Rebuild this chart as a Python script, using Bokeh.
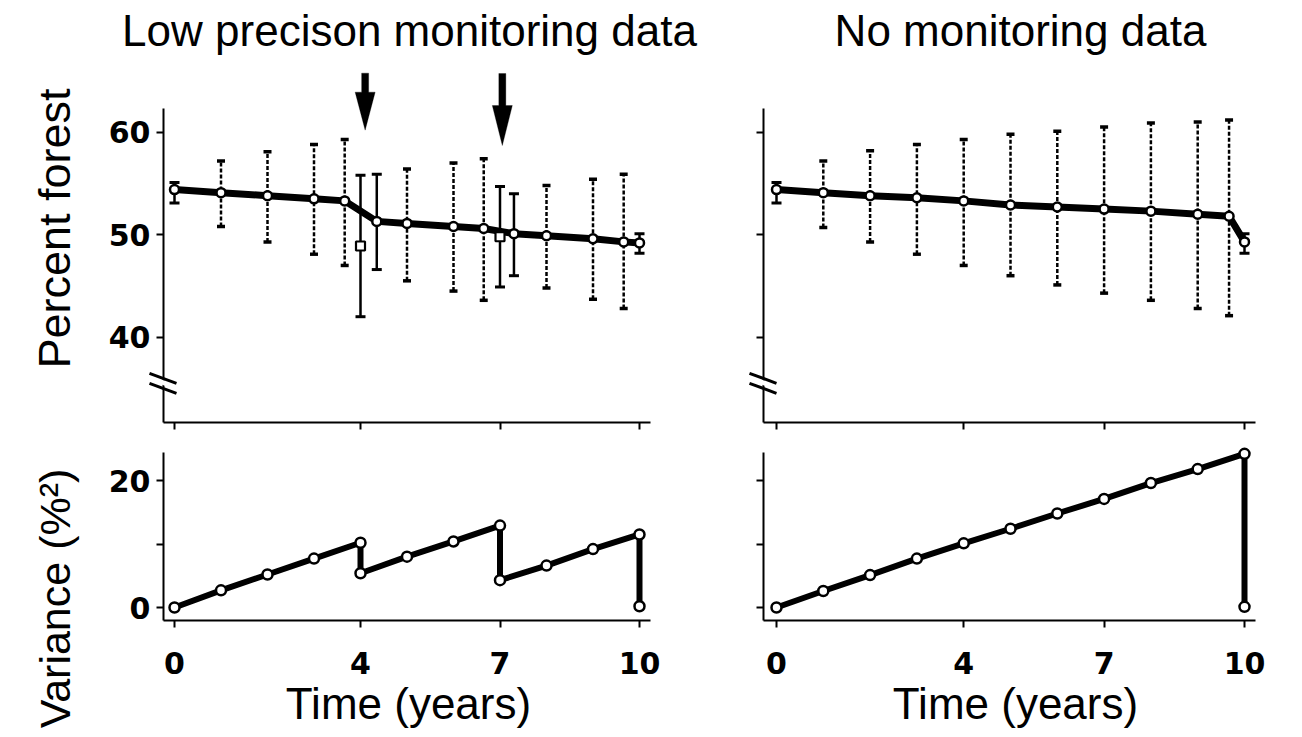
import math
from bokeh.plotting import figure
from bokeh.layouts import column, row
from bokeh.models import Label, PolyAnnotation, Arrow, FixedTicker, Range1d, LinearAxis
from bokeh.embed import file_html
from bokeh.resources import INLINE

# ---------------- data ----------------
time_ticks = [0, 4, 7, 10]
forest_ticks = [40, 50, 60]
var_ticks = [0, 10, 20]

# Low precision monitoring: estimates / predictions of percent forest
lp_t = [0, 1, 2, 3, 3.66, 4.35, 5, 6, 6.65, 7.3, 8, 9, 9.66, 10]
lp_mean = [54.4, 54.1, 53.8, 53.5, 53.3, 51.3, 51.1, 50.8, 50.6, 50.1, 49.9, 49.6, 49.3, 49.2]
lp_lo = [53.1, 50.8, 49.3, 48.1, 47.0, 46.6, 45.5, 44.5, 43.6, 46.0, 44.8, 43.7, 42.8, 48.2]
lp_hi = [55.1, 57.2, 58.1, 58.8, 59.3, 55.9, 56.4, 57.0, 57.4, 54.0, 54.8, 55.4, 55.9, 50.1]
lp_kind = ["est", "pred", "pred", "pred", "pred", "est", "pred", "pred", "pred", "est",
           "pred", "pred", "pred", "est"]

# monitoring observations (squares)
obs_t = [4, 7]
obs_val = [48.9, 49.8]
obs_lo = [42.0, 44.9]
obs_hi = [55.8, 54.7]

# arrows marking monitoring times
arrow_x = [4.1, 7.05]
arrow_tip = [60.2, 58.7]

# No monitoring data
nm_t = [0, 1, 2, 3, 4, 5, 6, 7, 8, 9, 9.67, 10]
nm_mean = [54.4, 54.1, 53.8, 53.6, 53.3, 52.9, 52.7, 52.5, 52.3, 52.0, 51.8, 49.3]
nm_lo = [53.1, 50.7, 49.3, 48.1, 47.0, 46.0, 45.1, 44.3, 43.6, 42.8, 42.1, 48.2]
nm_hi = [55.1, 57.2, 58.2, 58.8, 59.3, 59.8, 60.1, 60.5, 60.9, 61.0, 61.2, 50.1]
nm_kind = ["est"] + ["pred"] * 10 + ["est"]

# Variance
lp_var_t = [0, 1, 2, 3, 4, 4, 5, 6, 7, 7, 8, 9, 10, 10]
lp_var = [0.0, 2.7, 5.2, 7.7, 10.2, 5.4, 8.0, 10.4, 12.9, 4.3, 6.6, 9.2, 11.5, 0.2]
nm_var_t = [0, 1, 2, 3, 4, 5, 6, 7, 8, 9, 10, 10]
nm_var = [0.0, 2.6, 5.1, 7.7, 10.1, 12.4, 14.8, 17.1, 19.6, 21.8, 24.2, 0.1]

axis_break = 35.5

titles = ["Low precison monitoring data", "No monitoring data"]
ylab_top = "Percent forest"
ylab_bot = "Variance (%\u00b2)"
xlab = "Time (years)"

FONT = "Liberation Sans"
TICKFONT = "DejaVu Sans"


class Panel:
    """A figure whose frame fills its whole canvas; axes are placed with fixed_location."""

    def __init__(self, left, top, w, h, xmap, ymap, xbounds, ybounds, yticks,
                 show_ylabels, show_xlabels):
        (xa, pxa), (xb, pxb) = xmap
        (ya, pya), (yb, pyb) = ymap
        self.kx = (pxb - pxa) / (xb - xa)
        self.ky = (pya - pyb) / (yb - ya)
        self.left, self.top = left, top
        x0 = xa + (left - pxa) / self.kx
        x1 = xa + (left + w - pxa) / self.kx
        y1 = ya + (pya - top) / self.ky
        y0 = ya - (top + h - pya) / self.ky
        self.xr, self.yr = (x0, x1), (y0, y1)
        self.xb, self.yb = xbounds, ybounds
        p = figure(width=w, height=h, title=None,
                   x_range=Range1d(x0, x1), y_range=Range1d(y0, y1),
                   x_axis_location=None, y_axis_location=None,
                   output_backend="svg", toolbar_location=None,
                   min_border=0, min_border_left=0, min_border_right=0,
                   min_border_top=0, min_border_bottom=0)
        p.outline_line_color = None
        p.xgrid.visible = False
        p.ygrid.visible = False
        p.background_fill_color = "white"
        p.border_fill_color = "white"

        yax = LinearAxis(fixed_location=xbounds[0], bounds=ybounds,
                         ticker=FixedTicker(ticks=yticks))
        xax = LinearAxis(fixed_location=ybounds[0], bounds=xbounds,
                         ticker=FixedTicker(ticks=time_ticks))
        for ax in (xax, yax):
            ax.axis_line_width = 2
            ax.axis_line_color = "black"
            ax.major_tick_line_width = 2
            ax.major_tick_line_color = "black"
            ax.major_tick_out = 7
            ax.major_tick_in = 0
            ax.minor_tick_out = 0
            ax.minor_tick_in = 0
            ax.major_label_text_font = TICKFONT
            ax.major_label_text_font_style = "bold"
            ax.major_label_text_font_size = "30px"
            ax.major_label_text_color = "black"
        xax.major_label_standoff = 24
        yax.major_label_standoff = 6
        if not show_xlabels:
            xax.major_label_text_color = None
        if not show_ylabels:
            yax.major_label_text_color = None
        self.xax, self.yax = xax, yax
        p.add_layout(yax, "left")
        p.add_layout(xax, "below")
        self.p = p

    def dx(self, px):
        return self.xr[0] + (px - self.left) / self.kx

    def dy(self, py):
        return self.yr[1] - (py - self.top) / self.ky

    def text(self, px, py, txt, size, angle=0.0):
        self.p.add_layout(Label(x=self.dx(px), y=self.dy(py), text=txt, angle=angle,
                                text_font=FONT, text_font_size=size,
                                text_color="black", text_align="center",
                                text_baseline="alphabetic"))

    def axis_break_mark(self, yb):
        x0 = self.xb[0]
        kx, ky = self.kx, self.ky
        self.p.add_layout(PolyAnnotation(
            xs=[x0 - 4 / kx, x0 + 4 / kx, x0 + 4 / kx, x0 - 4 / kx],
            ys=[yb + 4.5 / ky, yb + 1.5 / ky, yb - 3.5 / ky, yb - 0.5 / ky],
            fill_color="white", fill_alpha=1.0, line_color=None, level="overlay"))
        for off in (5, -5):
            self.p.add_layout(Arrow(x_start=x0 - 14 / kx, y_start=yb + (off + 5) / ky,
                                    x_end=x0 + 13 / kx, y_end=yb + (off - 5) / ky,
                                    end=None, line_width=3, line_color="black",
                                    level="overlay"))


def error_bars(p, t, lo, hi, kind):
    pred = [i for i, k in enumerate(kind) if k == "pred"]
    est = [i for i, k in enumerate(kind) if k == "est"]
    if pred:
        xs = [t[i] for i in pred]
        p.segment(x0=xs, y0=[lo[i] for i in pred], x1=xs, y1=[hi[i] for i in pred],
                  line_color="black", line_width=2.5, line_dash="4 2")
        p.scatter(xs + xs, [lo[i] for i in pred] + [hi[i] for i in pred], marker="dash",
                  size=8, line_width=3.5, line_color="black")
    if est:
        xs = [t[i] for i in est]
        p.segment(x0=xs, y0=[lo[i] for i in est], x1=xs, y1=[hi[i] for i in est],
                  line_color="black", line_width=2.5)
        p.scatter(xs + xs, [lo[i] for i in est] + [hi[i] for i in est], marker="dash",
                  size=10, line_width=3, line_color="black")


def mean_line(p, t, m):
    p.line(t, m, line_color="black", line_width=7, line_join="round")
    p.scatter(t, m, marker="circle", size=9, fill_color="white", line_color="black",
              line_width=2.5)


def var_line(p, t, v):
    p.line(t, v, line_color="black", line_width=6, line_join="round")
    p.scatter(t, v, marker="circle", size=10, fill_color="white", line_color="black",
              line_width=2.5)


# pixel anchors (value, page pixel)
left_xmap = ((0, 174), (10, 639))
right_xmap = ((0, 776), (10, 1244))
forest_ymap = ((60, 131.7), (40, 336.7))
var_ymap = ((0, 607), (20, 480))
left_xb = (-0.237, 10.237)
right_xb = (-0.278, 10.235)
forest_yb = (31.68, 62.31)
var_yb = (-2.05, 24.4)

tl = Panel(0, 0, 700, 437, left_xmap, forest_ymap, left_xb, forest_yb, forest_ticks, True, False)
tr = Panel(700, 0, 600, 437, right_xmap, forest_ymap, right_xb, forest_yb, forest_ticks, False, False)
bl = Panel(0, 437, 700, 299, left_xmap, var_ymap, left_xb, var_yb, var_ticks, True, True)
br = Panel(700, 437, 600, 299, right_xmap, var_ymap, right_xb, var_yb, var_ticks, False, True)
bl.yax.major_label_overrides = {10: ""}

# top-left
error_bars(tl.p, lp_t, lp_lo, lp_hi, lp_kind)
error_bars(tl.p, obs_t, obs_lo, obs_hi, ["est"] * len(obs_t))
mean_line(tl.p, lp_t, lp_mean)
tl.p.scatter(obs_t, obs_val, marker="square", size=9, fill_color="white",
             line_color="black", line_width=2.2)
tl.axis_break_mark(axis_break)

# arrows
kx, ky = tl.kx, tl.ky
for ax_, tip, length, head in zip(arrow_x, arrow_tip, [57, 72], [38, 40]):
    top = tip + length / ky
    base = tip + head / ky
    hs, hh = 3.5 / kx, 10 / kx
    tl.p.add_layout(PolyAnnotation(
        xs=[ax_ - hs, ax_ + hs, ax_ + hs, ax_ + hh, ax_, ax_ - hh, ax_ - hs],
        ys=[top, top, base, base, tip, base, base],
        fill_color="black", fill_alpha=1.0, line_color="black", line_width=1,
        level="overlay"))

# top-right
error_bars(tr.p, nm_t, nm_lo, nm_hi, nm_kind)
mean_line(tr.p, nm_t, nm_mean)
tr.axis_break_mark(axis_break)

# variance panels
var_line(bl.p, lp_var_t, lp_var)
var_line(br.p, nm_var_t, nm_var)

# texts (anchor = text baseline position, corrected for renderer offset)
tl.text(409, 30, titles[0], "44px")
tr.text(1020, 30, titles[1], "44px")
tl.text(54, 228, ylab_top, "45px", angle=math.pi / 2)
bl.text(54, 598, ylab_bot, "43px", angle=math.pi / 2)
bl.text(408, 703, xlab, "44px")
br.text(1015, 703, xlab, "44px")

layout = column(row(tl.p, tr.p), row(bl.p, br.p))
open("out.html", "w").write(file_html(layout, INLINE))
